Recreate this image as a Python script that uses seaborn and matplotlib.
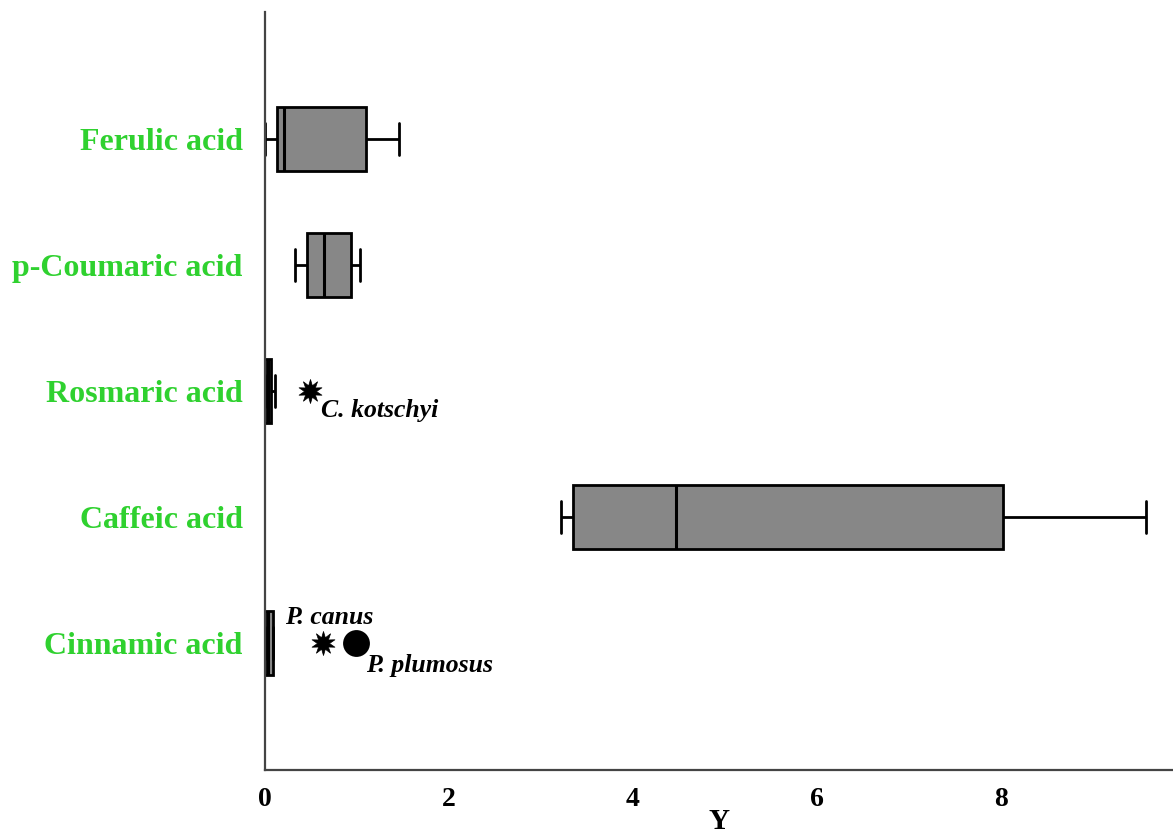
import pandas as pd
import matplotlib
matplotlib.use("Agg")
import matplotlib.pyplot as plt
import seaborn as sns

# 1. Data (five-number summaries)
acids = ["Ferulic acid", "p-Coumaric acid", "Rosmaric acid", "Caffeic acid", "Cinnamic acid"]
ferulic = [0.0, 0.13, 0.21, 1.10, 1.46]
coumaric = [0.33, 0.46, 0.64, 0.93, 1.03]
rosmaric = [0.0, 0.0, 0.03, 0.07, 0.11]
caffeic = [3.22, 3.35, 4.47, 8.02, 9.58]
cinnamic = [0.0, 0.0, 0.03, 0.09, 0.09]

# outliers marked separately
star_acid = ["Rosmaric acid", "Cinnamic acid"]
star_val = [0.49, 0.63]
star_name = ["C. kotschyi", "P. canus"]
dot_acid = ["Cinnamic acid"]
dot_val = [0.99]
dot_name = ["P. plumosus"]

df = pd.DataFrame({
    "acid": [a for a, v in zip(acids, [ferulic, coumaric, rosmaric, caffeic, cinnamic]) for _ in v],
    "Y": ferulic + coumaric + rosmaric + caffeic + cinnamic,
})

# 2. Plot
sns.set_style("white")
plt.rcParams["font.family"] = ["Liberation Serif", "DejaVu Serif"]
plt.rcParams["text.color"] = "black"
plt.rcParams["xtick.color"] = "black"
plt.rcParams["axes.labelcolor"] = "black"

fig = plt.figure(figsize=(11.73, 8.39), dpi=100)
ax = fig.add_axes([0.2259, 0.0822, 0.7741, 0.9035])

sns.boxplot(data=df, x="Y", y="acid", order=acids, orient="h", ax=ax,
            color="#878787", saturation=1, width=0.51, showfliers=False,
            linewidth=2, linecolor="black",
            medianprops=dict(color="black", linewidth=2.2))

sns.scatterplot(x=star_val, y=star_acid, ax=ax, marker=(10, 1, 0), s=300,
                color="black", linewidth=0.5, edgecolor="black", zorder=5)
sns.scatterplot(x=dot_val, y=dot_acid, ax=ax, marker="o", s=320,
                color="black", edgecolor="black", zorder=5)

pos = {a: i for i, a in enumerate(acids)}
offsets = {"C. kotschyi": (8, -14), "P. canus": (-27, 18), "P. plumosus": (7, -16)}
for a, v, n in zip(star_acid + dot_acid, star_val + dot_val, star_name + dot_name):
    ax.annotate(n, (v, pos[a]), xytext=offsets[n], textcoords="offset points",
                fontsize=18.5, fontweight="bold", fontstyle="italic",
                va="center", ha="left", color="black")

ax.set_xlim(0, 9.87)
ax.set_ylim(5.01, -1.01)
ax.set_xticks([0, 2, 4, 6, 8])
ax.set_xlabel("Y", fontsize=21, fontweight="bold", labelpad=-3)
ax.set_ylabel("")
ax.tick_params(axis="x", length=5, width=1.3, color="#444444", labelsize=20, pad=7)
ax.tick_params(axis="y", length=0, labelsize=23, pad=16)
for lab in ax.get_xticklabels():
    lab.set_fontweight("bold")
for lab in ax.get_yticklabels():
    lab.set_fontweight("bold")
    lab.set_color("#2fd12f")

for s in ["top", "right"]:
    ax.spines[s].set_visible(False)
for s in ["left", "bottom"]:
    ax.spines[s].set_color("#444444")
    ax.spines[s].set_linewidth(1.6)

fig.savefig("out.png", dpi=100)
